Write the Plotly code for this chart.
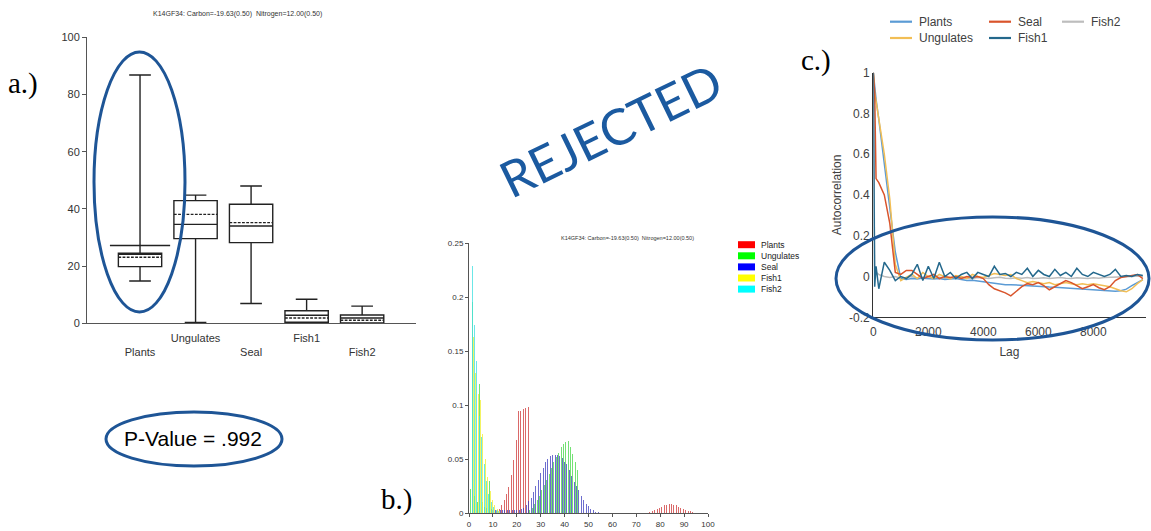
import plotly.graph_objects as go

W, H = 1151, 531

def fx(px):
    return px / W

def fy(py):
    return 1 - py / H

# ---------------- panel a: box plots of source contributions ----------------
sources = ["Plants", "Ungulates", "Seal", "Fish1", "Fish2"]
box_q1 = [19.8, 29.6, 28.2, 0.35, 0.1]
box_median = [24.4, 34.6, 34.0, 2.8, 1.85]
box_q3 = [24.5, 42.9, 41.6, 4.4, 2.9]
box_mean = [23.1, 38.1, 35.2, 1.85, 1.05]
box_low = [14.8, 0.3, 6.9, 0.3, 0.1]
box_high = [86.8, 44.8, 48.0, 8.4, 6.0]
plants_upper_mark = 27.2
source_ticktext = ["<br>Plants", "Ungulates", "<br>Seal", "Fish1", "<br>Fish2"]

# ---------------- panel b: posterior histograms ----------------
hist_ticks = [0, 10, 20, 30, 40, 50, 60, 70, 80, 90, 100]
prob_ticks = [0, 0.05, 0.1, 0.15, 0.2, 0.25]
prob_ticktext = ["0", "0.05", "0.1", "0.15", "0.2", "0.25"]

plants_bins = [11, 12, 13, 14, 15, 16, 17, 18, 19, 20, 21, 22, 23, 24,
               75, 76, 77, 78, 79, 80, 81, 82, 83, 84, 85, 86, 87, 88, 89, 90, 91, 92, 93]
plants_p = [0.002, 0.004, 0.007, 0.012, 0.018, 0.024, 0.035, 0.049, 0.068, 0.094, 0.094, 0.096, 0.097, 0.098,
            0.001, 0.002, 0.003, 0.004, 0.005, 0.006, 0.007, 0.0075, 0.008, 0.008, 0.0075, 0.007, 0.006,
            0.005, 0.004, 0.003, 0.002, 0.0015, 0.001]

ungulates_bins = [0, 1, 2, 3, 4, 5, 6, 7, 8, 9,
                  25, 26, 27, 28, 29, 30, 31, 32, 33, 34, 35, 36, 37, 38, 39, 40, 41, 42, 43, 44, 45]
ungulates_p = [0.022, 0.195, 0.016, 0.01, 0.119, 0.01, 0.006, 0.005, 0.03, 0.004,
               0.003, 0.005, 0.008, 0.012, 0.016, 0.021, 0.026, 0.031, 0.036, 0.042, 0.047,
               0.052, 0.056, 0.061, 0.064, 0.066, 0.067, 0.061, 0.055, 0.047, 0.040]

seal_bins = [10, 11, 12, 13, 14, 15, 16, 17, 18, 19, 20, 21, 22, 23, 24, 25, 26, 27, 28, 29, 30, 31, 32,
             33, 34, 35, 36, 37, 38, 39, 40, 41, 42, 43, 44, 45, 46, 47, 48, 49, 50, 51, 52, 53, 54]
seal_p = [0.003, 0.003, 0.003, 0.003, 0.003, 0.003, 0.003, 0.003, 0.003, 0.003, 0.003, 0.003,
          0.004, 0.005, 0.007, 0.011, 0.014, 0.019, 0.025, 0.031, 0.037, 0.042, 0.047,
          0.050, 0.0525, 0.054, 0.054, 0.054, 0.0525, 0.051, 0.047, 0.045, 0.0395, 0.034, 0.029,
          0.025, 0.021, 0.016, 0.012, 0.0086, 0.0062, 0.004, 0.0025, 0.0012, 0.0006]

fish1_bins = [1, 2, 3, 4, 5, 6, 7, 8, 9, 10, 11, 12]
fish1_p = [0.163, 0.13, 0.11, 0.105, 0.073, 0.05, 0.033, 0.02, 0.012, 0.007, 0.004, 0.002]

fish2_bins = [1, 2, 3, 4, 5, 6, 7, 8, 9, 10, 11, 12]
fish2_p = [0.229, 0.174, 0.141, 0.09, 0.07, 0.045, 0.03, 0.018, 0.01, 0.006, 0.003, 0.002]

# ---------------- panel c: autocorrelation by lag ----------------
lags = [0, 50, 100] + list(range(200, 9801, 200))
acf_plants = [1.0, 0.93, 0.87,
              0.77, 0.56, 0.35, 0.12, -0.01,
              -0.015, -0.01, -0.012, -0.008, -0.01,
              -0.012, -0.01, -0.015, -0.012, -0.01,
              -0.015, -0.02, -0.018, -0.022, -0.025,
              -0.03, -0.035, -0.037, -0.04, -0.04,
              -0.042, -0.045, -0.047, -0.048, -0.05,
              -0.05, -0.052, -0.053, -0.055, -0.056,
              -0.058, -0.06, -0.062, -0.063, -0.065,
              -0.066, -0.068, -0.07, -0.072, -0.07,
              -0.062, -0.045, -0.03, -0.015]
acf_ungulates = [1.0, 0.90, 0.86,
                 0.78, 0.60, 0.38, 0.06, -0.02,
                 -0.005, 0.012, -0.01, 0.02, 0.0,
                 -0.01, 0.01, 0.0, -0.012, 0.005,
                 0.0, -0.01, 0.01, 0.0, -0.005,
                 0.005, 0.015, 0.01, 0.005, 0.01,
                 -0.01, -0.02, -0.03, -0.025, -0.03,
                 -0.035, -0.03, -0.04, -0.035, -0.03,
                 -0.035, -0.04, -0.035, -0.04, -0.035,
                 -0.04, -0.045, -0.05, -0.06, -0.07,
                 -0.075, -0.06, -0.035, -0.015]
acf_seal = [1.0, 0.90, 0.48,
            0.46, 0.40, 0.26, 0.02, 0.01,
            0.03, 0.03, 0.01, -0.01, 0.0,
            0.01, -0.01, 0.0, -0.005, 0.0,
            -0.01, 0.0, -0.005, 0.0, -0.01,
            -0.04, -0.06, -0.07, -0.08, -0.095,
            -0.07, -0.05, -0.035, -0.04, -0.03,
            -0.045, -0.065, -0.05, -0.035, -0.02,
            -0.03, -0.045, -0.06, -0.05, -0.04,
            -0.055, -0.065, -0.05, -0.02, -0.005,
            0.0, 0.005, 0.01, -0.01]
acf_fish1 = [1.0, -0.05, 0.05,
             -0.06, 0.07, 0.03, -0.02, 0.0,
             -0.01, 0.01, 0.06, -0.02, 0.05,
             -0.01, 0.07, 0.0, 0.02, -0.01,
             0.01, 0.02, -0.01, 0.02, 0.01,
             0.0, 0.05, 0.01, 0.015, 0.0,
             0.02, 0.01, 0.04, 0.0, 0.03,
             0.01, 0.0, 0.035, 0.005, 0.02,
             0.0, 0.04, 0.01, 0.0, 0.02,
             0.01, 0.0, 0.01, 0.035, 0.0,
             0.005, 0.0, 0.01, 0.005]
acf_fish2 = [1.0, 0.05, 0.02,
             0.01, 0.0, -0.005, 0.0, -0.01,
             -0.005, 0.0, -0.008, -0.005, 0.0,
             -0.006, -0.004, -0.008, -0.005, -0.01,
             -0.006, -0.008, -0.01, -0.005, -0.008,
             -0.01, -0.006, -0.004, -0.008, -0.01,
             -0.006, -0.008, -0.005, -0.01, -0.008,
             -0.006, -0.01, -0.008, -0.005, -0.008,
             -0.01, -0.006, -0.008, -0.01, -0.006,
             -0.008, -0.005, -0.004, -0.006, -0.004,
             -0.002, 0.0, 0.002, 0.0]
lag_ticks = [0, 2000, 4000, 6000, 8000]
acf_ticks = [-0.2, 0, 0.2, 0.4, 0.6, 0.8, 1.0]
acf_ticktext = ["-0.2", "0", "0.2", "0.4", "0.6", "0.8", "1"]

sample_title = "K14GF34: Carbon=-19.63(0.50)  Nitrogen=12.00(0.50)"
p_value_text = "P-Value = .992"

SANS = "Liberation Sans, Arial, sans-serif"
SERIF = "Liberation Serif, Times New Roman, serif"
MARK = "#1E5596"

fig = go.Figure()

# boxes
for i, name in enumerate(sources):
    fig.add_trace(go.Box(
        x=[i], q1=[box_q1[i]], median=[box_median[i]], q3=[box_q3[i]],
        mean=[box_mean[i]], lowerfence=[box_low[i]], upperfence=[box_high[i]],
        boxmean=True, width=0.78, whiskerwidth=0.5, boxpoints=False,
        line=dict(color="#222222", width=1.4), fillcolor="rgba(255,255,255,0)",
        name=name, showlegend=False, xaxis="x", yaxis="y", hoverinfo="skip"))
fig.add_trace(go.Scatter(
    x=[0], y=[plants_upper_mark], mode="markers", showlegend=False,
    marker=dict(symbol="line-ew", size=43, line=dict(color="#222222", width=1.4)),
    xaxis="x", yaxis="y", hoverinfo="skip"))

# histogram bars
hist_series = [
    ("Plants", plants_bins, plants_p, 0.7, "rgba(205,55,55,0.75)", "#ff0000"),
    ("Ungulates", ungulates_bins, ungulates_p, 0.5, "rgba(70,215,70,0.75)", "#00ff00"),
    ("Seal", seal_bins, seal_p, 0.0, "rgba(60,60,190,0.75)", "#0000ff"),
    ("Fish1", fish1_bins, fish1_p, 0.8, "rgba(240,240,60,0.8)", "#ffff00"),
    ("Fish2", fish2_bins, fish2_p, 0.3, "rgba(70,225,225,0.8)", "#00ffff"),
]
for name, bins, p, shift, col, _ in hist_series:
    fig.add_trace(go.Bar(
        x=[b + shift for b in bins], y=p, width=0.42, marker=dict(color=col, line=dict(width=0)),
        name=name, showlegend=False, xaxis="x2", yaxis="y2", hoverinfo="skip"))

# autocorrelation lines
acf_series = [
    ("Plants", acf_plants, "#5B9BD5"),
    ("Ungulates", acf_ungulates, "#F2BE55"),
    ("Seal", acf_seal, "#D9542B"),
    ("Fish1", acf_fish1, "#24688C"),
    ("Fish2", acf_fish2, "#BDBDBD"),
]
for name, vals, col in [acf_series[4], acf_series[0], acf_series[1], acf_series[2], acf_series[3]]:
    fig.add_trace(go.Scatter(
        x=lags, y=vals, mode="lines", line=dict(color=col, width=1.5),
        name=name, showlegend=False, xaxis="x3", yaxis="y3", hoverinfo="skip"))

shapes = []
annotations = []

# panel b legend
for k, (name, _, _, _, _, solid) in enumerate(hist_series):
    yc = 244.7 + k * 11.1
    shapes.append(dict(type="rect", xref="paper", yref="paper",
                       x0=fx(738), x1=fx(755), y0=fy(yc + 3.5), y1=fy(yc - 3.5),
                       fillcolor=solid, line=dict(width=0)))
    annotations.append(dict(text=name, x=fx(759), y=fy(yc), xanchor="left",
                            font=dict(family=SANS, size=8.5, color="#222")))

# panel c legend
legend_pos = {"Plants": (890, 21.7), "Ungulates": (890, 38), "Seal": (989, 21.7),
              "Fish1": (989, 38), "Fish2": (1062, 21.7)}
for name, _, col in acf_series:
    lx, ly = legend_pos[name]
    shapes.append(dict(type="line", xref="paper", yref="paper",
                       x0=fx(lx), x1=fx(lx + 22), y0=fy(ly), y1=fy(ly),
                       line=dict(color=col, width=2.2)))
    annotations.append(dict(text=name, x=fx(lx + 27), y=fy(ly), xanchor="left",
                            font=dict(family=SANS, size=12, color="#404040")))

# ellipses
for (x0, x1, y0, y1) in [(94, 185, 52, 312), (106, 282, 412, 466), (836, 1149, 217, 340)]:
    shapes.append(dict(type="circle", xref="paper", yref="paper",
                       x0=fx(x0), x1=fx(x1), y0=fy(y1), y1=fy(y0),
                       line=dict(color=MARK, width=3)))

# text labels
annotations += [
    dict(text=sample_title, x=fx(237), y=fy(14), font=dict(family=SANS, size=7, color="#333")),
    dict(text=sample_title, x=fx(627), y=fy(238), font=dict(family=SANS, size=5.5, color="#333")),
    dict(text="a.)", x=fx(23), y=fy(84), font=dict(family=SERIF, size=29, color="#000")),
    dict(text="b.)", x=fx(396), y=fy(499), font=dict(family=SERIF, size=29, color="#000")),
    dict(text="c.)", x=fx(816), y=fy(61), font=dict(family=SERIF, size=29, color="#000")),
    dict(text=p_value_text, x=fx(193), y=fy(438), font=dict(family=SANS, size=21, color="#000")),
    dict(text="REJECTED", x=fx(610), y=fy(130), textangle=-26,
         font=dict(family="Lato, Open Sans, sans-serif", size=50, color="#1B5AA0")),
]
for a in annotations:
    a["xref"] = "paper"
    a["yref"] = "paper"
    a["showarrow"] = False
    a.setdefault("xanchor", "center")
    a.setdefault("yanchor", "middle")

axis_font_a = dict(family=SANS, size=11, color="#333")
common = dict(automargin=False, showgrid=False, zeroline=False)

fig.update_layout(
    width=W, height=H, autosize=False,
    margin=dict(l=0, r=0, t=0, b=0, pad=0),
    paper_bgcolor="white", plot_bgcolor="rgba(0,0,0,0)",
    barmode="overlay", bargap=0,
    showlegend=False,
    xaxis=dict(domain=[fx(87), fx(416)], range=[-0.955, 4.97], anchor="y",
               tickvals=[0, 1, 2, 3, 4], ticktext=source_ticktext, ticks="",
               ticklabelstandoff=4,
               showline=True, linecolor="#555", linewidth=1, tickfont=axis_font_a, **common),
    yaxis=dict(domain=[fy(323.3), fy(37.3)], range=[0, 100], anchor="x",
               tickvals=[0, 20, 40, 60, 80, 100], ticks="outside", ticklen=4, tickcolor="#555",
               showline=True, linecolor="#555", linewidth=1, tickfont=axis_font_a, **common),
    xaxis2=dict(domain=[fx(469), fx(708)], range=[0, 100], anchor="y2",
                tickvals=hist_ticks, ticks="outside", ticklen=3, tickcolor="#555",
                showline=True, linecolor="#555", linewidth=1,
                tickfont=dict(family=SANS, size=8, color="#333"), **common),
    yaxis2=dict(domain=[fy(513), fy(243)], range=[0, 0.25], anchor="x2",
                tickvals=prob_ticks, ticktext=prob_ticktext, ticks="outside", ticklen=3,
                tickcolor="#555", showline=True, linecolor="#555", linewidth=1,
                tickfont=dict(family=SANS, size=8, color="#333"), **common),
    xaxis3=dict(domain=[fx(873.3), fx(1145.6)], range=[0, 9900], anchor="y3",
                tickvals=lag_ticks, ticks="", showline=True, linecolor="#333", linewidth=1.2,
                ticklabelstandoff=3,
                tickfont=dict(family=SANS, size=12, color="#404040"),
                title=dict(text="Lag", font=dict(family=SANS, size=12, color="#404040"), standoff=9),
                **common),
    yaxis3=dict(domain=[fy(317.3), fy(72.5)], range=[-0.2, 1.0], anchor="x3",
                tickvals=acf_ticks, ticktext=acf_ticktext, ticks="", showline=True,
                linecolor="#333", linewidth=1.2,
                tickfont=dict(family=SANS, size=12, color="#404040"),
                title=dict(text="Autocorrelation", font=dict(family=SANS, size=12, color="#404040"),
                           standoff=4),
                **common),
    shapes=shapes,
    annotations=annotations,
)

fig.write_html("out.html")
